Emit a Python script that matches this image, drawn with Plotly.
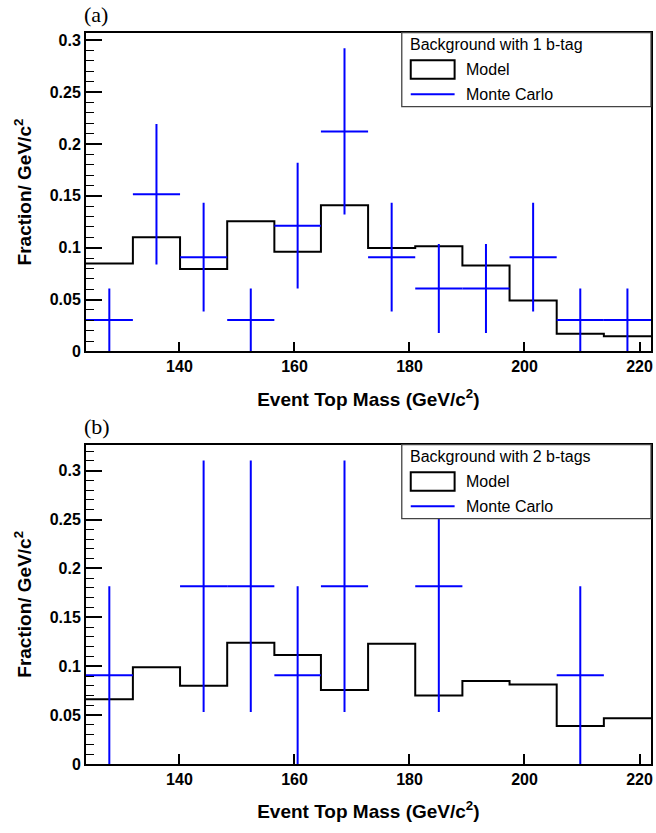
import plotly.graph_objects as go

# Binning of the event top mass (GeV/c^2)
bin_edges = [123.7, 131.9, 140.1, 148.3, 156.5, 164.6, 172.8,
             181.0, 189.2, 197.4, 205.6, 213.8, 222.0]

# (a) background with 1 b-tag
model_1tag = [0.0848, 0.110, 0.0794, 0.1254, 0.0962, 0.141,
              0.0997, 0.1013, 0.0829, 0.0492, 0.0171, 0.0147]
mc_1tag = [0.0303, 0.1515, 0.0909, 0.0303, 0.1212, 0.2121,
           0.0909, 0.0606, 0.0606, 0.0909, 0.0303, 0.0303]
mc_1tag_err = [0.0303, 0.0678, 0.0525, 0.0303, 0.0606, 0.0802,
               0.0525, 0.0429, 0.0429, 0.0525, 0.0303, 0.0303]

# (b) background with 2 b-tags
model_2tag = [0.0663, 0.099, 0.080, 0.124, 0.1114, 0.0758,
              0.1229, 0.070, 0.0848, 0.0814, 0.039, 0.0468]
mc_2tag = [0.0909, 0.0, 0.1818, 0.1818, 0.0909, 0.1818,
           0.0, 0.1818, 0.0, 0.0, 0.0909, 0.0]
mc_2tag_err = [0.0909, 0.0, 0.1286, 0.1286, 0.0909, 0.1286,
               0.0, 0.1286, 0.0, 0.0, 0.0909, 0.0]

x_ticks = [140, 160, 180, 200, 220]
x_ticktext = ["140", "160", "180", "200", "220"]
y_ticks = [0, 0.05, 0.1, 0.15, 0.2, 0.25, 0.3]
y_ticktext = ["0", "0.05", "0.1", "0.15", "0.2", "0.25", "0.3"]

panels = [
    dict(model=model_1tag, mc=mc_1tag, err=mc_1tag_err, ymax=0.3073,
         tag="(a)", header="Background with 1 b-tag", top=32.0, bottom=354.7),
    dict(model=model_2tag, mc=mc_2tag, err=mc_2tag_err, ymax=0.3266,
         tag="(b)", header="Background with 2 b-tags", top=449.0, bottom=772.3),
]

W, H = 656, 833
X_LEFT, X_RIGHT = 86.0, 653.0
SANS = "Liberation Sans, Arial, Helvetica, sans-serif"
SERIF = "Liberation Serif, Times New Roman, serif"
BLUE = "#0000ff"


def px(x):
    return x / W


def py(y):
    return 1 - y / H


centers = [(a + b) / 2 for a, b in zip(bin_edges[:-1], bin_edges[1:])]
half_width = [(b - a) / 2 for a, b in zip(bin_edges[:-1], bin_edges[1:])]

fig = go.Figure()
shapes = []
annotations = []

for i, p in enumerate(panels):
    n = "" if i == 0 else str(i + 1)
    xa, ya = "x" + n, "y" + n

    # model histogram drawn as a step outline
    fig.add_trace(go.Scatter(
        x=bin_edges, y=p["model"] + [p["model"][-1]],
        mode="lines", line=dict(color="black", width=2, shape="hv"),
        xaxis=xa, yaxis=ya, showlegend=False, hoverinfo="skip"))

    # Monte Carlo points with statistical errors (empty bins omitted)
    keep = [k for k, v in enumerate(p["mc"]) if v > 0]
    fig.add_trace(go.Scatter(
        x=[centers[k] for k in keep], y=[p["mc"][k] for k in keep],
        mode="markers", marker=dict(size=1, color=BLUE),
        error_x=dict(type="data", array=[half_width[k] for k in keep],
                     color=BLUE, thickness=2, width=0),
        error_y=dict(type="data", array=[p["err"][k] for k in keep],
                     color=BLUE, thickness=2, width=0),
        xaxis=xa, yaxis=ya, showlegend=False, hoverinfo="skip"))

    dom_y = [py(p["bottom"]), py(p["top"])]
    axis_common = dict(showline=True, linecolor="black", linewidth=1.5,
                       mirror=True, ticks="inside", tickcolor="black",
                       showgrid=False, zeroline=False,
                       tickfont=dict(family=SANS, size=16, color="black", weight="bold"))
    fig.update_layout(**{
        "xaxis" + n: dict(domain=[px(X_LEFT), px(X_RIGHT)],
                          range=[bin_edges[0], bin_edges[-1]],
                          anchor=ya, tickvals=x_ticks, ticktext=x_ticktext,
                          ticklen=10, tickwidth=1.5,
                          title=dict(text="Event Top Mass (GeV/c<sup>2</sup>)",
                                     font=dict(family=SANS, size=19, color="black",
                                               weight="bold"),
                                     standoff=18),
                          **axis_common),
        "yaxis" + n: dict(domain=dom_y, range=[0, p["ymax"]], anchor=xa,
                          tickvals=y_ticks, ticktext=y_ticktext,
                          ticklen=17, tickwidth=1.5,
                          minor=dict(dtick=0.01, tick0=0, ticks="inside",
                                     ticklen=9, tickwidth=1, tickcolor="black"),
                          title=dict(text="Fraction/ GeV/c<sup>2</sup>",
                                     font=dict(family=SANS, size=19, color="black",
                                               weight="bold"),
                                     standoff=13),
                          **axis_common),
    })

    top = p["top"]
    # panel tag
    annotations.append(dict(x=px(82), y=py(top - 18), xref="paper", yref="paper",
                            text=p["tag"], showarrow=False, xanchor="left",
                            yanchor="middle",
                            font=dict(family=SERIF, size=22, color="black")))
    # legend box
    shapes.append(dict(type="rect", xref="paper", yref="paper",
                       x0=px(403), x1=px(X_RIGHT), y0=py(top + 75), y1=py(top),
                       line=dict(color="#444444", width=1.3), fillcolor="white",
                       layer="above"))
    shapes.append(dict(type="rect", xref="paper", yref="paper",
                       x0=px(412), x1=px(456), y0=py(top + 46.7), y1=py(top + 28),
                       line=dict(color="black", width=2), fillcolor="white",
                       layer="above"))
    shapes.append(dict(type="line", xref="paper", yref="paper",
                       x0=px(412), x1=px(456), y0=py(top + 62.3), y1=py(top + 62.3),
                       line=dict(color=BLUE, width=2), layer="above"))
    for txt, yy, xx in [(p["header"], top + 12.5, 409),
                        ("Model", top + 37.3, 465),
                        ("Monte Carlo", top + 62.5, 465)]:
        annotations.append(dict(x=px(xx), y=py(yy), xref="paper", yref="paper",
                                text=txt, showarrow=False, xanchor="left",
                                yanchor="middle",
                                font=dict(family=SANS, size=16, color="black")))

fig.update_layout(width=W, height=H, margin=dict(l=0, r=0, t=0, b=0),
                  paper_bgcolor="white", plot_bgcolor="white",
                  shapes=shapes, annotations=annotations, showlegend=False)

fig.write_html("out.html")
